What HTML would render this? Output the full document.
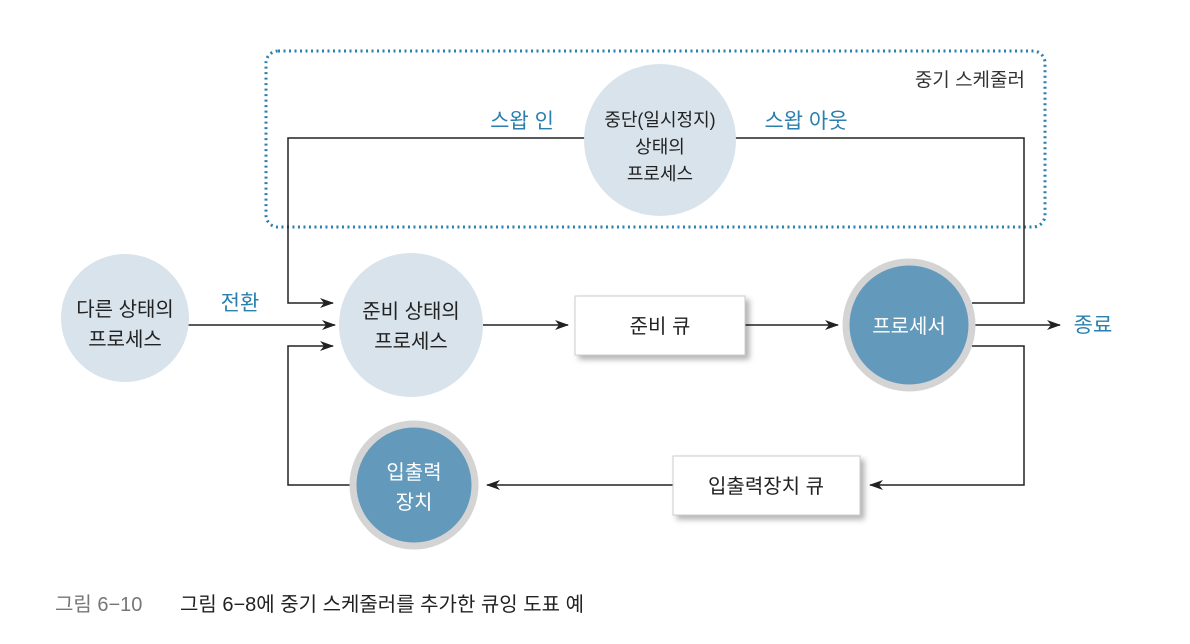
<!DOCTYPE html>
<html><head><meta charset="utf-8"><style>
body{margin:0;background:#fff;width:1190px;height:644px;overflow:hidden}
svg{display:block}
text{font-family:"Liberation Sans","Noto Sans CJK KR",sans-serif}
</style></head><body>
<svg width="1190" height="644" viewBox="0 0 1190 644" xmlns="http://www.w3.org/2000/svg">
<defs>
<marker id="a" markerWidth="14" markerHeight="10" refX="13" refY="5" orient="auto" markerUnits="userSpaceOnUse">
<path d="M0,0 L14,5 L0,10 L4,5 Z" fill="#222"/></marker>
<filter id="sh" x="-20%" y="-30%" width="150%" height="170%"><feDropShadow dx="4" dy="4" stdDeviation="3" flood-color="#000" flood-opacity="0.3"/></filter>
</defs>
<rect x="266" y="51" width="779" height="176" rx="12" fill="none" stroke="#2a7fae" stroke-width="3" stroke-dasharray="2 3.5"/>
<text x="1025" y="86" font-size="19" fill="#333" text-anchor="end">중기 스케줄러</text>
<g stroke="#222" stroke-width="1.5" fill="none">
<path d="M590,138 H288 V303 H333" marker-end="url(#a)"/>
<path d="M730,138 H1024 V303 H972"/>
<path d="M188,325 H335" marker-end="url(#a)"/>
<path d="M483,325 H568" marker-end="url(#a)"/>
<path d="M745,325 H838" marker-end="url(#a)"/>
<path d="M975,325 H1060" marker-end="url(#a)"/>
<path d="M972,346 H1024 V485 H870" marker-end="url(#a)"/>
<path d="M673,485 H487" marker-end="url(#a)"/>
<path d="M350,485 H288 V346 H333" marker-end="url(#a)"/>
</g>
<circle cx="660" cy="140" r="76" fill="#d8e3ec"/>
<text x="660" y="126" font-size="18" fill="#222" text-anchor="middle">중단(일시정지)</text>
<text x="660" y="153" font-size="18" fill="#222" text-anchor="middle">상태의</text>
<text x="660" y="180" font-size="18" fill="#222" text-anchor="middle">프로세스</text>
<text x="522" y="128" font-size="21" fill="#2a7fae" text-anchor="middle">스왑 인</text>
<text x="806" y="128" font-size="21" fill="#2a7fae" text-anchor="middle">스왑 아웃</text>
<circle cx="125" cy="318" r="64" fill="#d8e3ec"/>
<text x="125" y="316" font-size="20" fill="#222" text-anchor="middle">다른 상태의</text>
<text x="125" y="346" font-size="20" fill="#222" text-anchor="middle">프로세스</text>
<text x="240" y="310" font-size="21" fill="#2a7fae" text-anchor="middle">전환</text>
<circle cx="411" cy="325" r="72" fill="#d8e3ec"/>
<text x="411" y="318" font-size="20" fill="#222" text-anchor="middle">준비 상태의</text>
<text x="411" y="348" font-size="20" fill="#222" text-anchor="middle">프로세스</text>
<rect x="575" y="296" width="170" height="59" fill="#fff" stroke="#ccc" filter="url(#sh)"/>
<text x="660" y="333" font-size="20" fill="#222" text-anchor="middle">준비 큐</text>
<circle cx="909" cy="325" r="63" fill="#6399bb" stroke="#d4d4d4" stroke-width="7"/>
<text x="909" y="333" font-size="20" fill="#fff" text-anchor="middle">프로세서</text>
<text x="1093" y="332" font-size="21" fill="#2a7fae" text-anchor="middle">종료</text>
<circle cx="414" cy="485" r="61" fill="#6399bb" stroke="#d4d4d4" stroke-width="7"/>
<text x="414" y="479" font-size="20" fill="#fff" text-anchor="middle">입출력</text>
<text x="414" y="509" font-size="20" fill="#fff" text-anchor="middle">장치</text>
<rect x="673" y="456" width="187" height="59" fill="#fff" stroke="#ccc" filter="url(#sh)"/>
<text x="766" y="493" font-size="20" fill="#222" text-anchor="middle">입출력장치 큐</text>
<text x="55" y="611" font-size="20" fill="#777">그림 6−10</text>
<text x="180" y="611" font-size="20" fill="#222">그림 6−8에 중기 스케줄러를 추가한 큐잉 도표 예</text>
</svg>
</body></html>
